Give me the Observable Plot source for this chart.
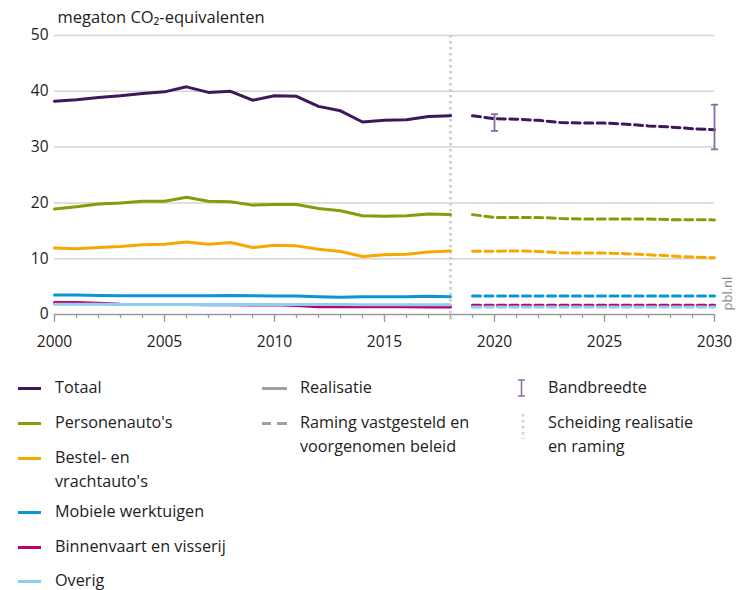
<!DOCTYPE html>
<html>
<head>
<meta charset="utf-8">
<script src="https://cdn.jsdelivr.net/npm/d3@7"></script>
<script src="https://cdn.jsdelivr.net/npm/@observablehq/plot@0.6"></script>
<style>
  body { margin: 0; background: #fff; font-family: "Open Sans", sans-serif; color: #222; }
  #wrap { position: relative; width: 749px; height: 590px; overflow: hidden; }
  #legend .item { position: absolute; font-size: 16.2px; line-height: 24px; white-space: nowrap; }
  #legend .sw { position: absolute; line-height: 0; }
  #legend .sw svg { display: block; }
</style>
</head>
<body>
<div id="wrap">
  <div id="chart"></div>
  <div id="legend"></div>
</div>
<script>
// ---- data ----
const seriesNames = ["Totaal", "Personenauto's", "Bestel- en vrachtauto's", "Mobiele werktuigen", "Binnenvaart en visserij", "Overig"];
const seriesColors = ["#3f175b", "#8a9a0b", "#f6a800", "#0796d6", "#c0006e", "#8fcfee"];

const yearsReal = [2000,2001,2002,2003,2004,2005,2006,2007,2008,2009,2010,2011,2012,2013,2014,2015,2016,2017,2018];
const totaalReal = [38.2,38.5,38.9,39.2,39.6,39.9,40.8,39.8,40.0,38.4,39.2,39.1,37.3,36.5,34.5,34.8,34.9,35.5,35.6];
const personenReal = [18.9,19.3,19.8,20.0,20.3,20.3,21.0,20.3,20.2,19.6,19.7,19.7,19.0,18.6,17.7,17.6,17.7,18.0,17.9];
const bestelReal = [11.9,11.8,12.0,12.2,12.5,12.6,13.0,12.6,12.9,12.0,12.4,12.3,11.7,11.3,10.4,10.7,10.8,11.2,11.4];
const mobielReal = [3.5,3.5,3.4,3.35,3.35,3.35,3.35,3.35,3.4,3.35,3.3,3.3,3.2,3.1,3.2,3.2,3.2,3.25,3.2];
const binnenReal = [2.15,2.15,2.0,1.85,1.8,1.8,1.8,1.75,1.75,1.7,1.75,1.6,1.4,1.45,1.4,1.45,1.4,1.35,1.35];
const overigReal = [1.85,1.85,1.85,1.8,1.8,1.8,1.8,1.8,1.8,1.8,1.8,1.8,1.8,1.8,1.75,1.75,1.75,1.75,1.75];

const yearsProj = [2019,2020,2021,2022,2023,2024,2025,2026,2027,2028,2029,2030];
const totaalProj = [35.6,35.1,35.0,34.8,34.4,34.3,34.3,34.1,33.8,33.6,33.3,33.1];
const personenProj = [17.9,17.4,17.4,17.4,17.2,17.1,17.1,17.1,17.1,17.0,17.0,16.95];
const bestelProj = [11.35,11.35,11.4,11.3,11.05,11.0,11.0,10.9,10.7,10.5,10.3,10.15];
const mobielProj = [3.3,3.3,3.3,3.3,3.3,3.3,3.3,3.3,3.3,3.3,3.3,3.3];
const binnenProj = [1.65,1.65,1.65,1.65,1.65,1.65,1.65,1.65,1.65,1.65,1.65,1.65];
const overigProj = [1.35,1.35,1.35,1.35,1.35,1.35,1.35,1.35,1.35,1.35,1.35,1.35];

const bandYears = [2020, 2030];
const bandLow = [32.9, 29.6];
const bandHigh = [35.9, 37.6];

const separatorYear = 2018;
const yTicks = [0,10,20,30,40,50];
const xTicksMajor = [2000,2005,2010,2015,2020,2025,2030];
const xTicksMinor = [2000,2001,2002,2003,2004,2005,2006,2007,2008,2009,2010,2011,2012,2013,2014,2015,2016,2017,2018,2019,2020,2021,2022,2023,2024,2025,2026,2027,2028,2029,2030];
const yLabel = "megaton CO\u2082-equivalenten";

// ---- tables ----
const realArrays = [totaalReal, personenReal, bestelReal, mobielReal, binnenReal, overigReal];
const projArrays = [totaalProj, personenProj, bestelProj, mobielProj, binnenProj, overigProj];
const real = [], proj = [];
seriesNames.forEach((s, i) => {
  yearsReal.forEach((y, j) => real.push({series: s, year: y, value: realArrays[i][j]}));
  yearsProj.forEach((y, j) => proj.push({series: s, year: y, value: projArrays[i][j]}));
});
const band = bandYears.map((y, i) => ({year: y, low: bandLow[i], high: bandHigh[i]}));

const capSymbol = { draw(ctx, size) { const r = 3.5; ctx.moveTo(-r, 0); ctx.lineTo(r, 0); } };

const chart = Plot.plot({
  width: 749,
  height: 358,
  marginLeft: 54,
  marginRight: 35,
  marginTop: 35,
  marginBottom: 44,
  style: { fontFamily: "Open Sans, sans-serif", fontSize: "15px", color: "#222", background: "#fff", overflow: "visible" },
  x: { domain: [2000, 2030] },
  y: { domain: [0, 50] },
  color: { domain: seriesNames, range: seriesColors },
  marks: [
    Plot.gridY({ ticks: yTicks.filter(d => d > 0), stroke: "#d4d4d4", strokeOpacity: 1, strokeWidth: 1.5 }),
    Plot.axisY({ ticks: yTicks, tickSize: 0, tickPadding: 6, label: null, fontSize: 15.5 }),
    Plot.axisX({ ticks: xTicksMinor, tickSize: 4, tickFormat: () => "", label: null, stroke: "#9a9a9a", strokeWidth: 1.3 }),
    Plot.axisX({ ticks: xTicksMajor, tickSize: 8, tickPadding: 13, tickFormat: "d", label: null, stroke: "#9a9a9a", strokeWidth: 1.3, fontSize: 15.5 }),
    Plot.ruleY([0], { stroke: "#9a9a9a", strokeWidth: 1.5 }),
    Plot.ruleX([separatorYear], { stroke: "#cfcfcf", strokeWidth: 3, strokeDasharray: "2.5,3.5", insetBottom: -6 }),
    Plot.line(real, { x: "year", y: "value", z: "series", stroke: "series", strokeWidth: 3 }),
    Plot.line(proj, { x: "year", y: "value", z: "series", stroke: "series", strokeWidth: 3, strokeDasharray: "8,4.5" }),
    Plot.ruleX(band, { x: "year", y1: "low", y2: "high", stroke: "#8a6ba3", strokeWidth: 1.8 }),
    Plot.dot(band, { x: "year", y: "low", symbol: capSymbol, stroke: "#8a6ba3", strokeWidth: 1.8, fill: "none" }),
    Plot.dot(band, { x: "year", y: "high", symbol: capSymbol, stroke: "#8a6ba3", strokeWidth: 1.8, fill: "none" }),
    Plot.text([yLabel], { frameAnchor: "top-left", textAnchor: "start", lineAnchor: "bottom", dx: 3, dy: -13, fontSize: 16.5, fill: "#222" }),
    Plot.text(["pbl.nl"], { frameAnchor: "bottom-right", rotate: -90, textAnchor: "start", lineAnchor: "middle", dx: 13, dy: -4, fontSize: 13, fill: "#8a8a8a" })
  ]
});
document.getElementById("chart").appendChild(chart);

// ---- legend ----
const legend = document.getElementById("legend");
const textX = [55, 300, 548];
function addItem(col, centerY, html) {
  const d = document.createElement("div");
  d.className = "item";
  d.style.left = textX[col] + "px";
  d.style.top = (centerY - 12) + "px";
  d.innerHTML = html;
  legend.appendChild(d);
}
function addSvg(left, top, w, h, inner) {
  const d = document.createElement("div");
  d.className = "sw";
  d.style.left = left + "px";
  d.style.top = top + "px";
  d.innerHTML = `<svg width="${w}" height="${h}">${inner}</svg>`;
  legend.appendChild(d);
}
const rows1 = [387, 422, 457, 511, 546, 580];
const labels1 = ["Totaal", "Personenauto's", "Bestel- en<br>vrachtauto's", "Mobiele werktuigen", "Binnenvaart en visserij", "Overig"];
seriesNames.forEach((s, i) => {
  addSvg(18, rows1[i], 23, 3, `<rect width="23" height="3" fill="${seriesColors[i]}"/>`);
  addItem(0, rows1[i], labels1[i]);
});
addSvg(262, 387, 25, 3, `<rect width="25" height="3" fill="#a0a0a0"/>`);
addItem(1, 387, "Realisatie");
addSvg(262, 422, 25, 3, `<rect width="9" height="3" fill="#a0a0a0"/><rect x="15" width="10" height="3" fill="#a0a0a0"/>`);
addItem(1, 422, "Raming vastgesteld en<br>voorgenomen beleid");
addSvg(517, 379, 10, 18, `<path d="M1,1H8M4.5,1V17M1,17H8" stroke="#8a6ba3" stroke-width="1.5" fill="none"/>`);
addItem(2, 387, "Bandbreedte");
addSvg(521, 413, 4, 26, `<line x1="2" y1="1" x2="2" y2="26" stroke="#d4d4d4" stroke-width="3" stroke-dasharray="2.5,3.5"/>`);
addItem(2, 422, "Scheiding realisatie<br>en raming");
</script>
</body>
</html>
